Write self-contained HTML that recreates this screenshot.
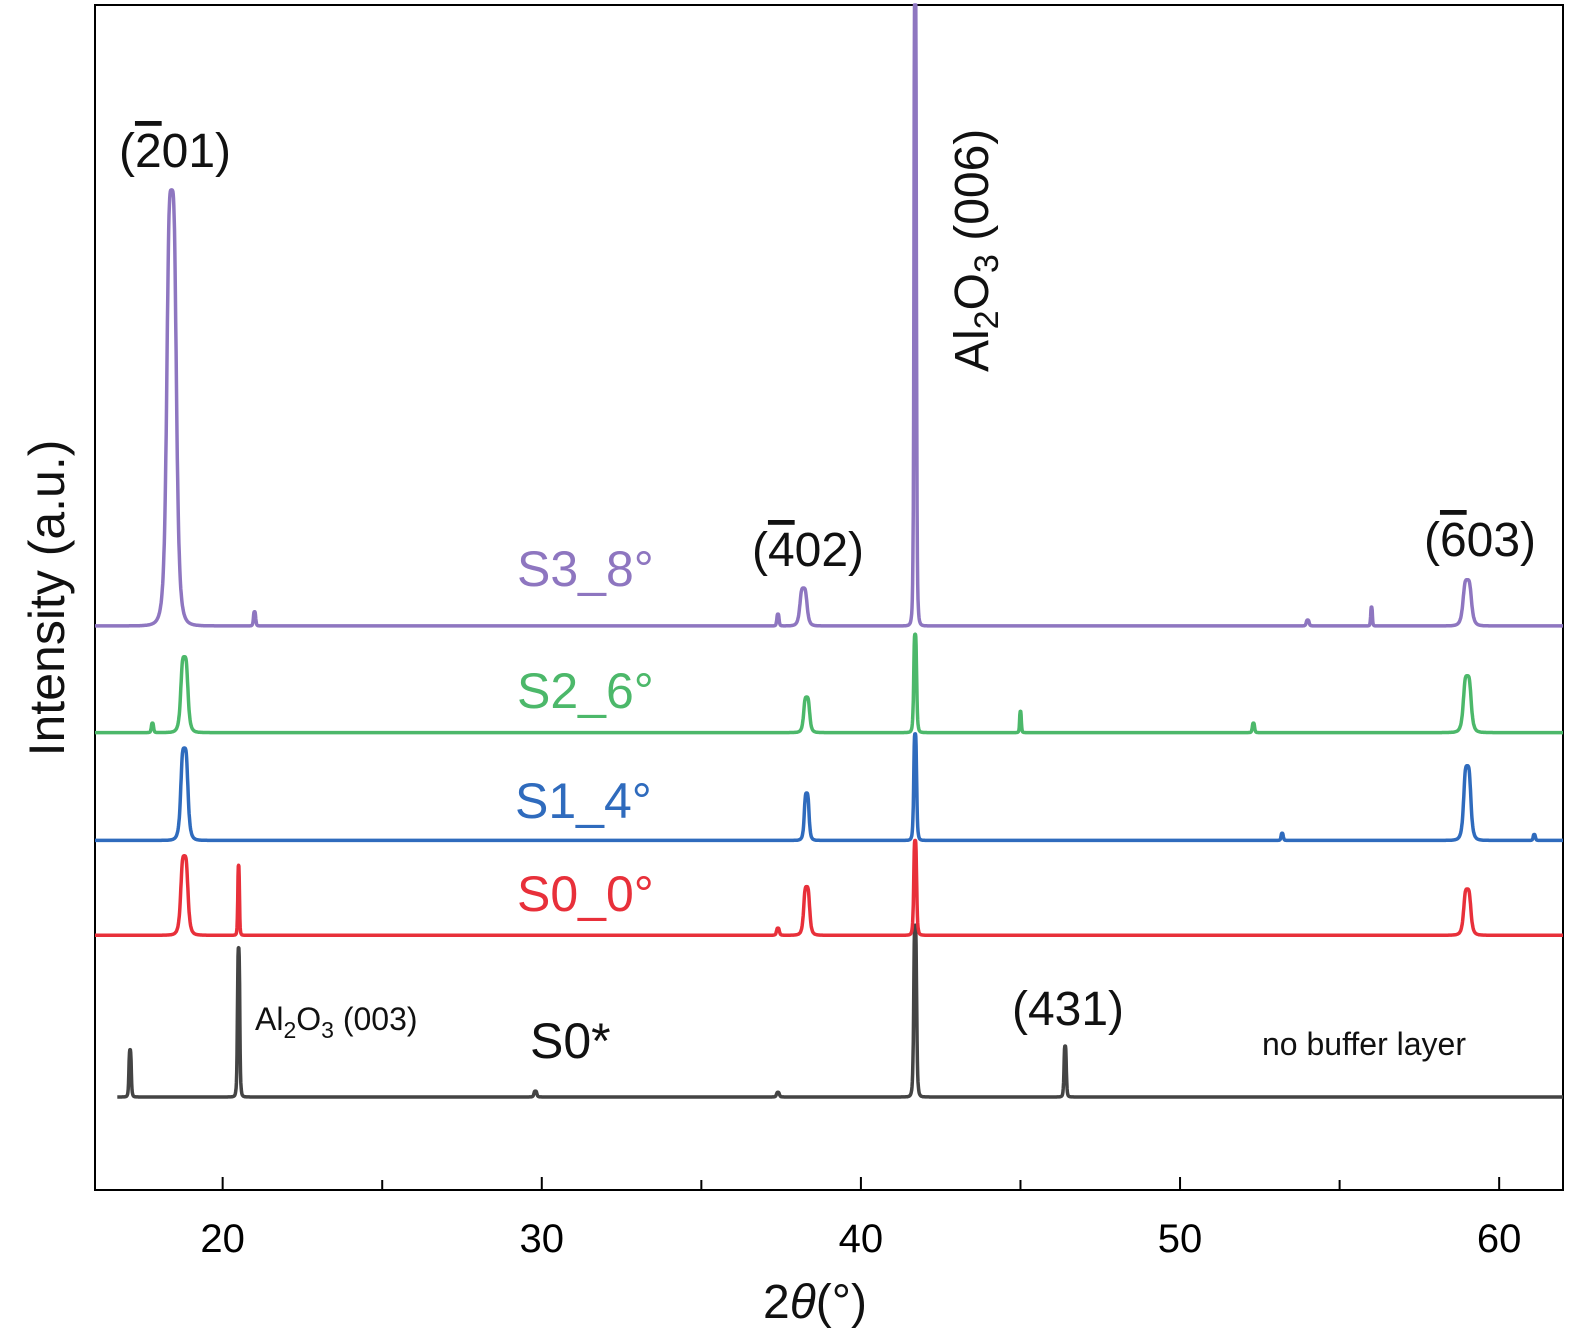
<!DOCTYPE html>
<html><head><meta charset="utf-8"><style>
body{margin:0;background:#fff}
svg{display:block;font-family:"Liberation Sans","DejaVu Sans",sans-serif}
.ov{text-decoration:overline}
</style></head><body>
<svg id="chart" width="1575" height="1342" viewBox="0 0 1575 1342">
<rect x="95" y="5" width="1468" height="1185" fill="none" stroke="#000" stroke-width="2"/>
<g id="ticks"></g>
<g id="series"></g>
<g font-size="48" fill="#111">
<text x="175" y="167" text-anchor="middle">(<tspan class="ov" style="text-decoration:overline">2</tspan>01)</text>
<text x="808" y="566" text-anchor="middle">(<tspan class="ov" style="text-decoration:overline">4</tspan>02)</text>
<text x="1480" y="556" text-anchor="middle">(<tspan class="ov" style="text-decoration:overline">6</tspan>03)</text>
<text x="1068" y="1025" text-anchor="middle">(431)</text>
<text transform="translate(988,372) rotate(-90)">Al<tspan font-size="34" dy="10">2</tspan><tspan dy="-10">O</tspan><tspan font-size="34" dy="10">3</tspan><tspan dy="-10"> (006)</tspan></text>
<text x="255" y="1030" font-size="32">Al<tspan font-size="23" dy="8">2</tspan><tspan dy="-8">O</tspan><tspan font-size="23" dy="8">3</tspan><tspan dy="-8"> (003)</tspan></text>
<text x="1262" y="1055" font-size="32">no buffer layer</text>
<text x="530" y="1058" font-size="50">S0*</text>
<text x="517" y="586" font-size="50" fill="#8e76c0">S3_8°</text>
<text x="517" y="708" font-size="50" fill="#4cb86a">S2_6°</text>
<text x="515" y="818" font-size="50" fill="#2f6bbd">S1_4°</text>
<text x="517" y="911" font-size="50" fill="#e8303a">S0_0°</text>
<text transform="translate(64,598) rotate(-90)" font-size="50" text-anchor="middle">Intensity (a.u.)</text>
<text x="815" y="1318" font-size="48" text-anchor="middle">2<tspan font-style="italic">θ</tspan>(°)</text>
</g>
</svg>
<script>
const xTicks=[20,30,40,50,60];
const xMinor=[25,35,45,55];
const names=['s0-star','s0','s1','s2','s3'];
const colors=['#444','#e8303a','#2f6bbd','#4cb86a','#8e76c0'];
const offsets=[7.85,21.5,29.5,38.6,47.6];
const starts=[16.7,16.0,16.0,16.0,16.0];
// peaks: [position, height, halfwidth]
const peaksS0star=[[17.1,4,0.04],[20.5,12.6,0.04],[41.7,14.5,0.05],[46.4,4.3,0.04],[29.8,0.5,0.05],[37.4,0.4,0.05]];
const peaksS0=[[18.8,6.7,0.12],[20.5,5.9,0.03],[38.3,4.1,0.1],[41.7,8,0.05],[59.0,3.9,0.12],[37.4,0.6,0.05]];
const peaksS1=[[18.8,7.8,0.12],[38.3,4.0,0.08],[41.7,9,0.05],[59.0,6.3,0.12],[53.2,0.6,0.04],[61.1,0.5,0.04]];
const peaksS2=[[18.8,6.4,0.12],[17.8,0.8,0.04],[38.3,3.0,0.1],[41.7,8.3,0.05],[45.0,1.8,0.03],[52.3,0.8,0.04],[59.0,4.8,0.13]];
const peaksS3=[[18.4,36.8,0.16],[21.0,1.2,0.04],[37.4,1.0,0.04],[38.2,3.2,0.12],[41.7,60,0.04],[54.0,0.5,0.05],[56.0,1.6,0.03],[59.0,3.9,0.14]];
const allPeaks=[peaksS0star,peaksS0,peaksS1,peaksS2,peaksS3];
const X=v=>95+(v-16)*(1468/46);
const Y=v=>1190-v*11.85;
const NS='http://www.w3.org/2000/svg';
const tg=document.getElementById('ticks');
xTicks.forEach(t=>{
 const l=document.createElementNS(NS,'line');
 l.setAttribute('x1',X(t));l.setAttribute('x2',X(t));l.setAttribute('y1',1190);l.setAttribute('y2',1177);
 l.setAttribute('stroke','#000');l.setAttribute('stroke-width',2);
 
 
 tg.appendChild(l);
 const tx=document.createElementNS(NS,'text');
 tx.setAttribute('x',X(t));tx.setAttribute('y',1252);tx.setAttribute('font-size',40);tx.setAttribute('text-anchor','middle');
 tx.textContent=t;
 
 
 tg.appendChild(tx);
});
xMinor.forEach(t=>{
 const l=document.createElementNS(NS,'line');
 l.setAttribute('x1',X(t));l.setAttribute('x2',X(t));l.setAttribute('y1',1190);l.setAttribute('y2',1180);
 l.setAttribute('stroke','#000');l.setAttribute('stroke-width',2);
 
 
 tg.appendChild(l);
});
const sg=document.getElementById('series');
allPeaks.forEach((pk,i)=>{
 let d='';
 for(let x=starts[i];x<=62;x+=0.01){
  let v=offsets[i];
  pk.forEach(p=>{const u=(x-p[0])/p[2];v+=p[1]/(1+u*u*u*u);});
  d+=(d?'L':'M')+X(x).toFixed(1)+','+Math.max(5,Y(v)).toFixed(1);
 }
 const path=document.createElementNS(NS,'path');
 path.setAttribute('d',d);path.setAttribute('fill','none');path.setAttribute('stroke',colors[i]);
 path.setAttribute('stroke-width',3.5);path.setAttribute('stroke-linejoin','round');
 
 
 sg.appendChild(path);
});
</script>
</body></html>
